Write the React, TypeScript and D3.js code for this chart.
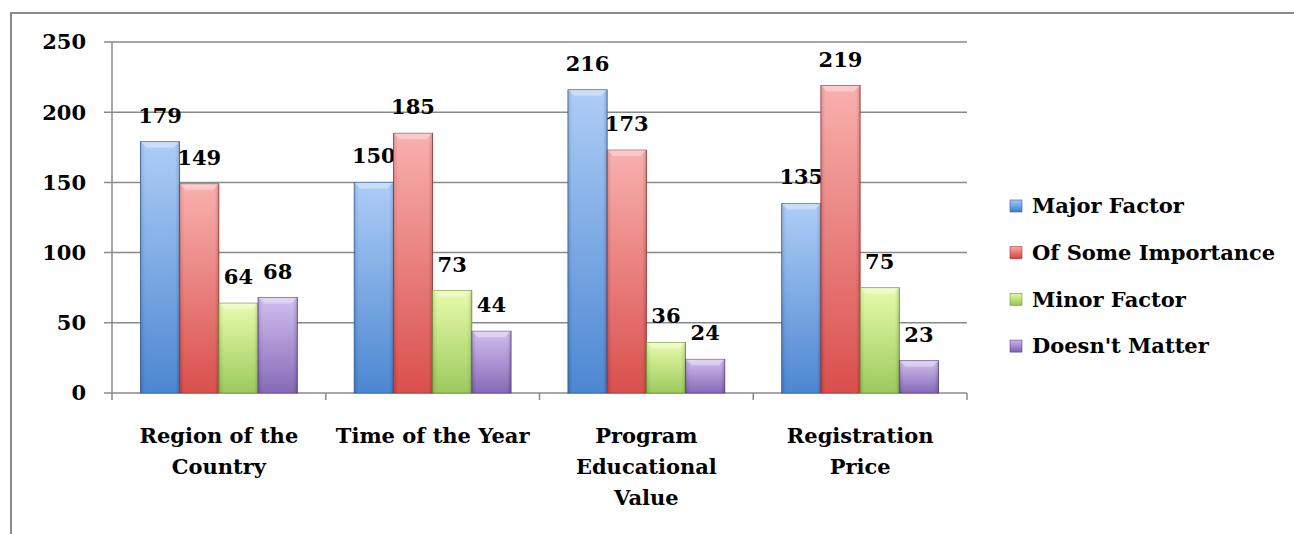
import { useEffect, useRef } from "react";
import * as d3 from "d3";

const categories = [
  ["Region of the", "Country"],
  ["Time of the Year"],
  ["Program", "Educational", "Value"],
  ["Registration", "Price"],
];
const seriesNames = ["Major Factor", "Of Some Importance", "Minor Factor", "Doesn't Matter"];
const majorFactor = [179, 150, 216, 135];
const someImportance = [149, 185, 173, 219];
const minorFactor = [64, 73, 36, 75];
const doesntMatter = [68, 44, 24, 23];
const yTicks = [0, 50, 100, 150, 200, 250];

// top / bottom colours of each series gradient
const palette = [
  { top: "#a7c9f6", bottom: "#3d7ccd", edge: "#2f5f9e" },
  { top: "#f8aaa7", bottom: "#d6403d", edge: "#a33230" },
  { top: "#e6fba4", bottom: "#93c54e", edge: "#6f9838" },
  { top: "#cdb8ee", bottom: "#7c5db1", edge: "#5d4588" },
];

const W = 1294;
const H = 534;
const FONT = "'DejaVu Serif', serif";

export default function App() {
  const ref = useRef<SVGSVGElement>(null);
  const series = [majorFactor, someImportance, minorFactor, doesntMatter];

  useEffect(() => {
    const svg = d3.select(ref.current);
    svg.selectAll("*").remove();

    const margin = { left: 112, right: W - 967, top: 42, bottom: H - 393 };
    const x0 = d3
      .scaleBand<number>()
      .domain(d3.range(categories.length))
      .range([margin.left, W - margin.right])
      .paddingInner(0)
      .paddingOuter(0);
    const groupW = x0.bandwidth() * 0.734;
    const x1 = d3
      .scaleBand<number>()
      .domain(d3.range(series.length))
      .range([0, groupW])
      .padding(0);
    const y = d3.scaleLinear().domain([0, 250]).range([H - margin.bottom, margin.top]);

    const defs = svg.append("defs");
    palette.forEach((p, i) => {
      const g = defs
        .append("linearGradient")
        .attr("id", `grad${i}`)
        .attr("x1", 0)
        .attr("y1", 0)
        .attr("x2", 0)
        .attr("y2", 1);
      g.append("stop").attr("offset", "0%").attr("stop-color", p.top);
      g.append("stop").attr("offset", "100%").attr("stop-color", p.bottom);
    });
    const side = defs
      .append("linearGradient")
      .attr("id", "side")
      .attr("x1", 0)
      .attr("x2", 1)
      .attr("y1", 0)
      .attr("y2", 0);
    side.append("stop").attr("offset", "0%").attr("stop-color", "#000").attr("stop-opacity", 0.12);
    side.append("stop").attr("offset", "12%").attr("stop-color", "#fff").attr("stop-opacity", 0.08);
    side.append("stop").attr("offset", "88%").attr("stop-color", "#fff").attr("stop-opacity", 0.08);
    side.append("stop").attr("offset", "100%").attr("stop-color", "#000").attr("stop-opacity", 0.18);

    // chart frame
    svg
      .append("rect")
      .attr("x", 11)
      .attr("y", 13)
      .attr("width", W + 20)
      .attr("height", H + 20)
      .attr("fill", "none")
      .attr("stroke", "#8a8a8a")
      .attr("stroke-width", 2);

    // gridlines + y ticks
    svg
      .append("g")
      .selectAll("line")
      .data(yTicks)
      .join("line")
      .attr("x1", margin.left - 8)
      .attr("x2", W - margin.right)
      .attr("y1", (d) => y(d))
      .attr("y2", (d) => y(d))
      .attr("stroke", "#8a8a8a")
      .attr("stroke-width", 1.5);

    svg
      .append("g")
      .selectAll("text")
      .data(yTicks)
      .join("text")
      .attr("x", margin.left - 26)
      .attr("y", (d) => y(d))
      .attr("dy", "0.35em")
      .attr("text-anchor", "end")
      .attr("font-family", FONT)
      .attr("font-weight", "bold")
      .attr("font-size", 21)
      .text((d) => d);

    // y axis line
    svg
      .append("line")
      .attr("x1", margin.left)
      .attr("x2", margin.left)
      .attr("y1", y(250))
      .attr("y2", y(0))
      .attr("stroke", "#8a8a8a")
      .attr("stroke-width", 1.5);

    // x tick marks at category boundaries
    svg
      .append("g")
      .selectAll("line")
      .data(d3.range(categories.length + 1))
      .join("line")
      .attr("x1", (i) => margin.left + i * x0.bandwidth())
      .attr("x2", (i) => margin.left + i * x0.bandwidth())
      .attr("y1", y(0))
      .attr("y2", y(0) + 7)
      .attr("stroke", "#8a8a8a")
      .attr("stroke-width", 1.5);

    // bars
    const offset = (x0.bandwidth() - groupW) / 2;
    const groups = svg
      .append("g")
      .selectAll("g")
      .data(categories.map((_, ci) => ci))
      .join("g")
      .attr("transform", (ci) => `translate(${(x0(ci) ?? 0) + offset},0)`);

    groups.each(function (ci) {
      const g = d3.select(this);
      series.forEach((vals, si) => {
        const bx = x1(si) ?? 0;
        const bw = x1.bandwidth();
        const by = y(vals[ci]);
        const bh = y(0) - by;
        g.append("rect")
          .attr("x", bx)
          .attr("y", by)
          .attr("width", bw)
          .attr("height", bh)
          .attr("fill", `url(#grad${si})`)
          .attr("stroke", palette[si].edge)
          .attr("stroke-width", 0.8);
        g.append("rect")
          .attr("x", bx)
          .attr("y", by)
          .attr("width", bw)
          .attr("height", bh)
          .attr("fill", "url(#side)");
        // bevel highlight at the top
        g.append("path")
          .attr("d", `M${bx},${by} L${bx + bw},${by} L${bx + bw - 6},${by + 6} L${bx + 6},${by + 6} Z`)
          .attr("fill", "#fff")
          .attr("opacity", 0.35);
        g.append("text")
          .attr("x", bx + bw / 2)
          .attr("y", by - 19)
          .attr("text-anchor", "middle")
          .attr("font-family", FONT)
          .attr("font-weight", "bold")
          .attr("font-size", 21)
          .text(vals[ci]);
      });
    });

    // category labels
    svg
      .append("g")
      .selectAll("text")
      .data(categories)
      .join("text")
      .attr("x", (_, i) => (x0(i) ?? 0) + x0.bandwidth() / 2)
      .attr("y", y(0) + 50)
      .attr("text-anchor", "middle")
      .attr("font-family", FONT)
      .attr("font-weight", "bold")
      .attr("font-size", 21)
      .each(function (lines) {
        d3.select(this)
          .selectAll("tspan")
          .data(lines)
          .join("tspan")
          .attr("x", d3.select(this).attr("x"))
          .attr("dy", (_, j) => (j === 0 ? 0 : 31))
          .text((d) => d);
      });

    // legend
    const legend = svg
      .append("g")
      .selectAll("g")
      .data(seriesNames)
      .join("g")
      .attr("transform", (_, i) => `translate(1010,${206 + i * 46.7})`);
    legend
      .append("rect")
      .attr("x", 0)
      .attr("y", -6)
      .attr("width", 12)
      .attr("height", 12)
      .attr("fill", (_, i) => `url(#grad${i})`)
      .attr("stroke", (_, i) => palette[i].edge)
      .attr("stroke-width", 0.6);
    legend
      .append("text")
      .attr("x", 22)
      .attr("dy", "0.35em")
      .attr("font-family", FONT)
      .attr("font-weight", "bold")
      .attr("font-size", 21)
      .text((d) => d);
  }, []);

  return (
    <svg
      ref={ref}
      width={W}
      height={H}
      style={{ position: "fixed", left: 0, top: 0, background: "#fff" }}
    />
  );
}
